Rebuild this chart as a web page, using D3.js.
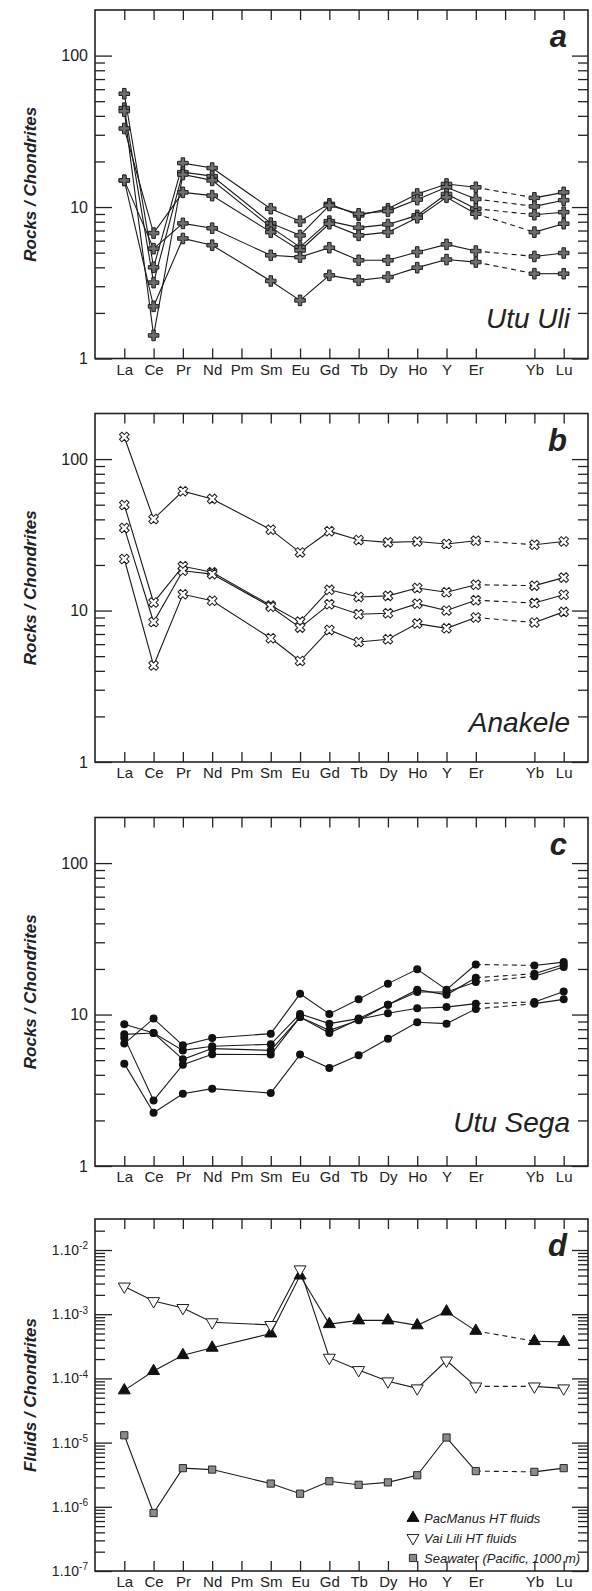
<!DOCTYPE html>
<html>
<head>
<meta charset="utf-8">
<title>REE patterns</title>
<script src="https://d3js.org/d3.v7.min.js"></script>
<style>
body { margin: 0; background: #fff; }
text { font-family: "Liberation Sans", Arial, sans-serif; fill: #222; }
</style>
</head>
<body>
<script>
// x categories (index 13 = Tm, no data)
var elements = ["La","Ce","Pr","Nd","Pm","Sm","Eu","Gd","Tb","Dy","Ho","Y","Er","","Yb","Lu"];
var measured = ["La","Ce","Pr","Nd","Sm","Eu","Gd","Tb","Dy","Ho","Y","Er","Yb","Lu"];

// a - Utu Uli
var utuUli = [
  [56, 4.0, 19.5, 18.1, 9.75, 8.07, 10.5, 8.81, 9.75, 12.2, 14.2, 13.5, 11.5, 12.5],
  [45, 3.17, 17.0, 16.0, 7.83, 6.5, 10.25, 9.03, 9.4, 11.2, 13.5, 11.3, 10.1, 11.1],
  [43, 1.42, 16.4, 15.0, 7.37, 5.44, 8.07, 7.31, 7.68, 8.81, 12.2, 9.75, 8.9, 9.25],
  [33, 6.73, 12.5, 11.9, 6.83, 5.17, 7.76, 6.5, 6.83, 8.5, 11.6, 9.03, 6.83, 7.76],
  [15, 5.31, 7.8, 7.25, 4.8, 4.67, 5.39, 4.45, 4.45, 5.05, 5.67, 5.12, 4.72, 4.97],
  [15, 2.21, 6.2, 5.6, 3.25, 2.42, 3.54, 3.28, 3.45, 3.98, 4.5, 4.33, 3.63, 3.63]
];
// b - Anakele
var anakele = [
  [140, 40.2, 61.4, 54.6, 34.2, 24.2, 33.4, 29.2, 28.2, 28.6, 27.5, 28.9, 27.2, 28.6],
  [49.8, 11.3, 19.6, 17.9, 10.8, 8.45, 13.7, 12.3, 12.5, 14.1, 13.2, 14.8, 14.6, 16.5],
  [35.1, 8.4, 18.3, 17.4, 10.6, 7.71, 11.0, 9.45, 9.6, 11.1, 10.0, 11.7, 11.2, 12.7],
  [21.9, 4.34, 12.8, 11.6, 6.56, 4.64, 7.44, 6.2, 6.46, 8.2, 7.63, 9.0, 8.33, 9.8]
];
// c - Utu Sega
var utuSega = [
  [8.62, 7.55, 5.80, 6.17, 6.36, 10.1, 8.71, 9.40, 11.6, 14.6, 13.5, 17.5, 18.6, 21.4],
  [7.40, 7.55, 5.06, 5.96, 5.80, 9.62, 7.87, 9.16, 11.6, 14.1, 14.1, 16.4, 17.9, 20.6],
  [7.04, 2.71, 4.67, 5.46, 5.44, 9.62, 7.55, 9.3, 10.2, 11.0, 11.2, 11.8, 12.1, 14.2],
  [6.43, 9.40, 6.26, 7.0, 7.48, 13.7, 10.1, 12.6, 16.0, 19.9, 14.6, 21.4, 21.1, 22.2],
  [4.74, 2.25, 3.0, 3.24, 3.03, 5.44, 4.43, 5.38, 6.93, 8.9, 8.71, 10.9, 11.8, 12.6]
];
// d - fluids
var pacManus = [6.5e-5, 1.3e-4, 2.3e-4, 3.0e-4, 5.0e-4, 4.0e-3, 7.0e-4, 8.0e-4, 8.0e-4, 6.7e-4, 1.1e-3, 5.5e-4, 3.8e-4, 3.7e-4];
var vaiLili = [2.7e-3, 1.6e-3, 1.25e-3, 7.5e-4, 6.8e-4, 5.0e-3, 2.1e-4, 1.35e-4, 9.0e-5, 7.0e-5, 1.9e-4, 7.5e-5, 7.5e-5, 7.0e-5];
var seawater = [1.3e-5, 8.0e-7, 4.0e-6, 3.8e-6, 2.3e-6, 1.6e-6, 2.5e-6, 2.2e-6, 2.4e-6, 3.1e-6, 1.2e-5, 3.6e-6, 3.5e-6, 4.0e-6];

var rockMajor = [1, 10, 100];
var fluidMajor = [1e-7, 1e-6, 1e-5, 1e-4, 1e-3, 1e-2];
var fluidLabels = ["-7", "-6", "-5", "-4", "-3", "-2"];
var legendNames = ["PacManus HT fluids", "Vai Lili HT fluids", "Seawater (Pacific, 1000 m)"];

var width = 592, height = 1591;
var left = 95, right = 588, ph = 348.5;
var tops = [10, 413.5, 817.5, 1219];
var heights = [ph, ph, ph, 352];

var svg = d3.select("body").append("svg")
  .attr("width", width).attr("height", height);

var x = d3.scaleLinear().domain([-1, 15.83]).range([left, right]);

function minorTicks(lo, hi) {
  var out = [];
  for (var e = lo; e < hi; e++) {
    for (var m = 2; m <= 9; m++) out.push(m * Math.pow(10, e));
  }
  return out;
}

var markers = {
  plus: function(g) {
    g.append("path").attr("d", d3.symbol(d3.symbolCross, 62)())
      .attr("fill", "#6e6e6e").attr("stroke", "#1e1e1e").attr("stroke-width", 1);
  },
  ex: function(g) {
    g.append("path").attr("d", d3.symbol(d3.symbolCross, 58)())
      .attr("transform", "rotate(45)")
      .attr("fill", "#fff").attr("stroke", "#1e1e1e").attr("stroke-width", 1);
  },
  dot: function(g) {
    g.append("circle").attr("r", 4).attr("fill", "#111");
  },
  tri: function(g) {
    g.append("path").attr("d", d3.symbol(d3.symbolTriangle, 62)())
      .attr("fill", "#111").attr("stroke", "#111");
  },
  itri: function(g) {
    g.append("path").attr("d", d3.symbol(d3.symbolTriangle, 62)())
      .attr("transform", "rotate(180)")
      .attr("fill", "#fff").attr("stroke", "#1e1e1e").attr("stroke-width", 1);
  },
  sq: function(g) {
    g.append("path").attr("d", d3.symbol(d3.symbolSquare, 52)())
      .attr("fill", "#8a8a8a").attr("stroke", "#2a2a2a").attr("stroke-width", 1);
  }
};

function drawPanel(p) {
  var top = p.top, h = p.h, bottom = top + h;
  // y range: domain[1] sits at p.yTop (defaults to frame top)
  var y = d3.scaleLog().domain(p.domain).range([bottom, p.yTop || top]);
  var g = svg.append("g");

  // top ticks
  g.append("g").attr("transform", "translate(0," + top + ")")
    .call(d3.axisBottom(x).tickValues(d3.range(16)).tickSize(10).tickFormat(""))
    .call(function(a) { a.select(".domain").remove(); });
  // bottom ticks + labels
  var bIdx = d3.range(16).filter(function(i) { return i !== 13; });
  g.append("g").attr("transform", "translate(0," + bottom + ")")
    .call(d3.axisBottom(x).tickValues(bIdx).tickSizeInner(-10).tickSizeOuter(0)
      .tickPadding(5.5).tickFormat(function(i) { return elements[i]; }))
    .call(function(a) {
      a.select(".domain").remove();
      a.selectAll("text").attr("font-size", 15).attr("fill", "#222");
    });

  // left major
  var lm = g.append("g").attr("transform", "translate(" + left + ",0)")
    .call(d3.axisLeft(y).tickValues(p.major).tickSizeInner(-17).tickSizeOuter(0).tickPadding(7)
      .tickFormat(function(d) { return p.fmt ? "" : d3.format("d")(d); }))
    .call(function(a) { a.select(".domain").remove(); });
  lm.selectAll("text").attr("font-size", p.fmt ? 14 : 16).attr("fill", "#222");
  if (p.fmt) {
    lm.selectAll(".tick text").each(function(d, i) {
      var t = d3.select(this);
      t.append("tspan").text("1.10");
      t.append("tspan").attr("font-size", 10).attr("dy", "-0.55em").text(p.fmt[i]);
    });
  }
  // left minor
  g.append("g").attr("transform", "translate(" + left + ",0)")
    .call(d3.axisLeft(y).tickValues(p.minor).tickSizeInner(-10).tickSizeOuter(0).tickFormat(""))
    .call(function(a) { a.select(".domain").remove(); });
  // right major + minor
  g.append("g").attr("transform", "translate(" + right + ",0)")
    .call(d3.axisRight(y).tickValues(p.major).tickSizeInner(-16).tickSizeOuter(0).tickFormat(""))
    .call(function(a) { a.select(".domain").remove(); });
  g.append("g").attr("transform", "translate(" + right + ",0)")
    .call(d3.axisRight(y).tickValues(p.minor).tickSizeInner(-10).tickSizeOuter(0).tickFormat(""))
    .call(function(a) { a.select(".domain").remove(); });

  g.selectAll(".tick line").attr("stroke", "#222").attr("stroke-width", 1.3);

  // frame
  g.append("rect").attr("x", left).attr("y", top)
    .attr("width", right - left).attr("height", h)
    .attr("fill", "none").attr("stroke", "#222").attr("stroke-width", 1.6);

  // y title
  g.append("text")
    .attr("transform", "translate(36," + (top + h / 2) + ") rotate(-90)")
    .attr("text-anchor", "middle").attr("font-size", 17)
    .attr("font-weight", "bold").attr("font-style", "italic")
    .text(p.ytitle);

  // panel letter and name
  g.append("text").attr("x", 567).attr("y", top + 37)
    .attr("text-anchor", "end").attr("font-size", 31)
    .attr("font-weight", "bold").attr("font-style", "italic").text(p.letter);
  if (p.name) {
    g.append("text").attr("x", 570).attr("y", top + p.nameDy)
      .attr("text-anchor", "end").attr("font-size", 28)
      .attr("font-style", "italic").text(p.name);
  }

  var pos = measured.map(function(e) { return elements.indexOf(e); });
  var line = d3.line()
    .x(function(d) { return x(d[0]); })
    .y(function(d) { return y(d[1]); });

  p.series.forEach(function(s) {
    var pts = s.values.map(function(v, i) { return [pos[i], v]; });
    var iEr = measured.indexOf("Er");
    var solid1 = pts.slice(0, iEr + 1), dash = pts.slice(iEr, iEr + 2), solid2 = pts.slice(iEr + 1);
    [solid1, solid2].forEach(function(seg) {
      g.append("path").attr("d", line(seg)).attr("fill", "none")
        .attr("stroke", "#1a1a1a").attr("stroke-width", 1.1);
    });
    g.append("path").attr("d", line(dash)).attr("fill", "none")
      .attr("stroke", "#1a1a1a").attr("stroke-width", 1.1).attr("stroke-dasharray", "5,4");
  });
  p.series.forEach(function(s) {
    g.selectAll(null).data(s.values).enter().append("g")
      .attr("transform", function(v, i) { return "translate(" + x(pos[i]) + "," + y(v) + ")"; })
      .each(function() { markers[s.marker](d3.select(this)); });
  });
  return { g: g, y: y };
}

var rockMinor = minorTicks(0, 2);

drawPanel({ top: tops[0], h: heights[0], domain: [1, 200], major: rockMajor, minor: rockMinor,
  ytitle: "Rocks / Chondrites", letter: "a", name: "Utu Uli", nameDy: 318,
  series: utuUli.map(function(v) { return { values: v, marker: "plus" }; }) });
drawPanel({ top: tops[1], h: heights[1], domain: [1, 200], major: rockMajor, minor: rockMinor,
  ytitle: "Rocks / Chondrites", letter: "b", name: "Anakele", nameDy: 318,
  series: anakele.map(function(v) { return { values: v, marker: "ex" }; }) });
drawPanel({ top: tops[2], h: heights[2], domain: [1, 200], major: rockMajor, minor: rockMinor,
  ytitle: "Rocks / Chondrites", letter: "c", name: "Utu Sega", nameDy: 314,
  series: utuSega.map(function(v) { return { values: v, marker: "dot" }; }) });

var pd = drawPanel({ top: tops[3], h: heights[3], domain: [1e-7, 1e-2], yTop: 1250,
  major: fluidMajor, minor: minorTicks(-7, -2).concat([2e-2]),
  fmt: fluidLabels, ytitle: "Fluids / Chondrites", letter: "d", name: null,
  series: [
    { values: pacManus, marker: "tri" },
    { values: vaiLili, marker: "itri" },
    { values: seawater, marker: "sq" }
  ] });

// legend
var legMarkers = ["tri", "itri", "sq"];
legendNames.forEach(function(name, i) {
  var ly = 1518 + i * 20;
  var lg = pd.g.append("g").attr("transform", "translate(413," + ly + ")");
  markers[legMarkers[i]](lg);
  pd.g.append("text").attr("x", 424).attr("y", ly + 5)
    .attr("font-size", 13).attr("font-style", "italic").text(name);
});
</script>
</body>
</html>
